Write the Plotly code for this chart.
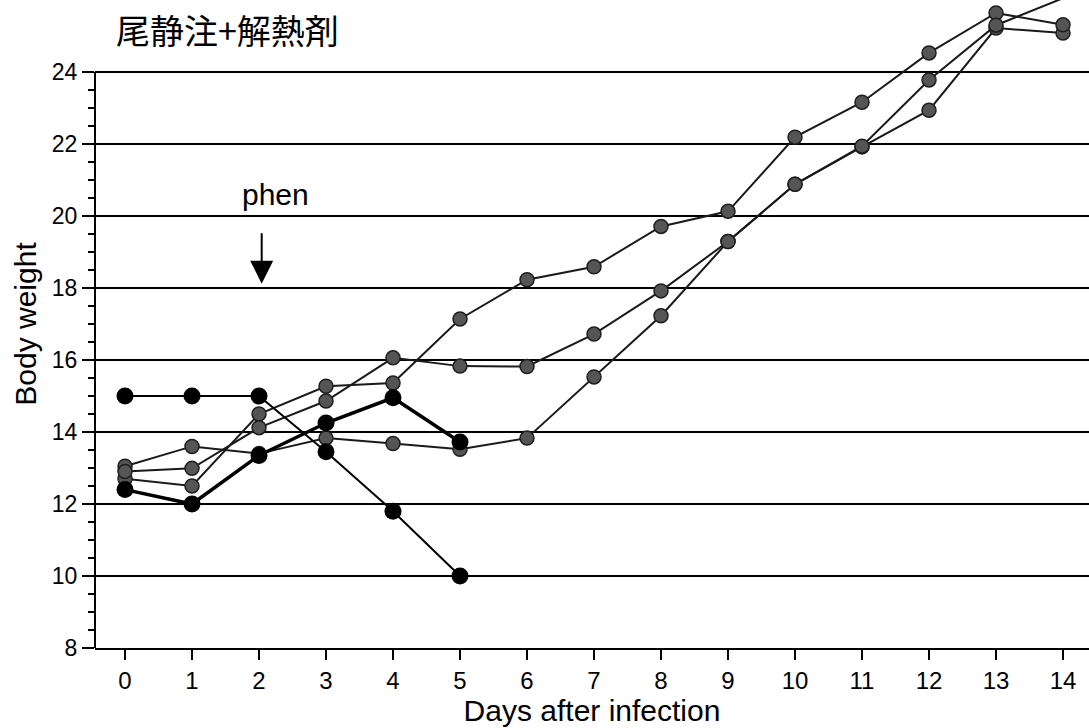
import plotly.graph_objects as go

# ---- data ----
days = list(range(15))
day_labels = [str(d) for d in days]

# black (filled circle) series, days 0-5
black_a = [15.0, 15.0, 15.0, 13.45, 11.8, 10.0]
black_b = [12.4, 12.0, 13.35, 14.25, 14.95, 13.72]

# grey (stippled) series, days 0-14
grey_a = [13.05, 13.6, 13.4, 13.83, 13.68, 13.52, 13.83, 15.53, 17.23, 19.29, 20.88, 21.92, 22.94, 25.22, 25.08]
grey_b = [12.7, 12.5, 14.5, 15.27, 15.36, 17.14, 18.23, 18.59, 19.71, 20.13, 22.19, 23.16, 24.53, 25.64, 25.31]
grey_c = [12.9, 12.99, 14.12, 14.86, 16.06, 15.83, 15.82, 16.72, 17.92, 19.29, 20.88, 21.94, 23.78, 25.3, 26.05]

y_ticks = [8, 10, 12, 14, 16, 18, 20, 22, 24]
y_minor = [v / 2 for v in range(2 * y_ticks[0], 2 * y_ticks[-1] + 1) if v % 4 != 0]

title_text = "尾静注+解熱剤"
x_title = "Days after infection"
y_title = "Body weight"
phen_label = "phen"
phen_day = 2.04
phen_tip = 18.12
phen_tail = 19.8
phen_text_day = 2.25
phen_text_y = 20.6

FONT = "Liberation Sans, Arial, sans-serif"

fig = go.Figure()

for g in (grey_a, grey_b, grey_c):
    fig.add_trace(go.Scatter(
        x=days[:len(g)], y=g, mode="lines+markers",
        line=dict(color="#1a1a1a", width=2),
        marker=dict(size=14, color="#555555", line=dict(color="#1e1e1e", width=1.5)),
        cliponaxis=False, showlegend=False, hoverinfo="skip"))

fig.add_trace(go.Scatter(
    x=days[:len(black_a)], y=black_a, mode="lines+markers",
    line=dict(color="black", width=2),
    marker=dict(size=17, color="black"),
    cliponaxis=False, showlegend=False))
fig.add_trace(go.Scatter(
    x=days[:len(black_b)], y=black_b, mode="lines+markers",
    line=dict(color="black", width=3.5),
    marker=dict(size=17, color="black"),
    cliponaxis=False, showlegend=False))

# y axis line only spans the labelled range
fig.add_shape(type="line", xref="paper", yref="y", x0=0, x1=0,
              y0=y_ticks[0], y1=y_ticks[-1], line=dict(color="black", width=2))

# phen arrow + label
fig.add_annotation(x=phen_day, y=phen_tip, ax=phen_day, ay=phen_tail,
                   xref="x", yref="y", axref="x", ayref="y", text=" ",
                   showarrow=True, arrowhead=2, arrowsize=2.3, arrowwidth=2,
                   arrowcolor="black", standoff=0)
fig.add_annotation(x=phen_text_day, y=phen_text_y, xref="x", yref="y",
                   text=phen_label, showarrow=False,
                   font=dict(family=FONT, size=30, color="black"))

fig.update_layout(
    width=1089, height=728,
    margin=dict(l=95, r=0, t=0, b=80),
    plot_bgcolor="white", paper_bgcolor="white",
    title=dict(text=title_text, x=116 / 1089, xanchor="left", y=1 - 32 / 728,
               yanchor="middle", xref="container", yref="container",
               font=dict(family="Noto Sans CJK JP", size=34, color="black")),
    xaxis=dict(range=[-0.448, 14.388], tickvals=days, ticktext=day_labels,
               automargin=False,
               ticks="outside", ticklen=10, tickwidth=1.5, tickcolor="black",
               showline=True, linewidth=2, linecolor="black",
               showgrid=False, zeroline=False,
               tickfont=dict(family=FONT, size=24, color="black"),
               title=dict(text=x_title, font=dict(family=FONT, size=30, color="black"),
                          standoff=6)),
    yaxis=dict(range=[8, 26], tickvals=y_ticks, automargin=False,
               ticks="outside", ticklen=12, tickwidth=1.5, tickcolor="black",
               showline=False, showgrid=True, gridcolor="black", gridwidth=2,
               zeroline=False,
               minor=dict(tickvals=y_minor, ticks="outside", ticklen=6,
                          tickwidth=1.5, tickcolor="black", showgrid=False),
               tickfont=dict(family=FONT, size=23, color="black"),
               title=dict(text=y_title, font=dict(family=FONT, size=30, color="black"),
                          standoff=6)),
)

fig.write_html("out.html",
               config={"displayModeBar": False},
               post_script="document.body.style.margin='0';document.body.style.overflow='hidden';")
